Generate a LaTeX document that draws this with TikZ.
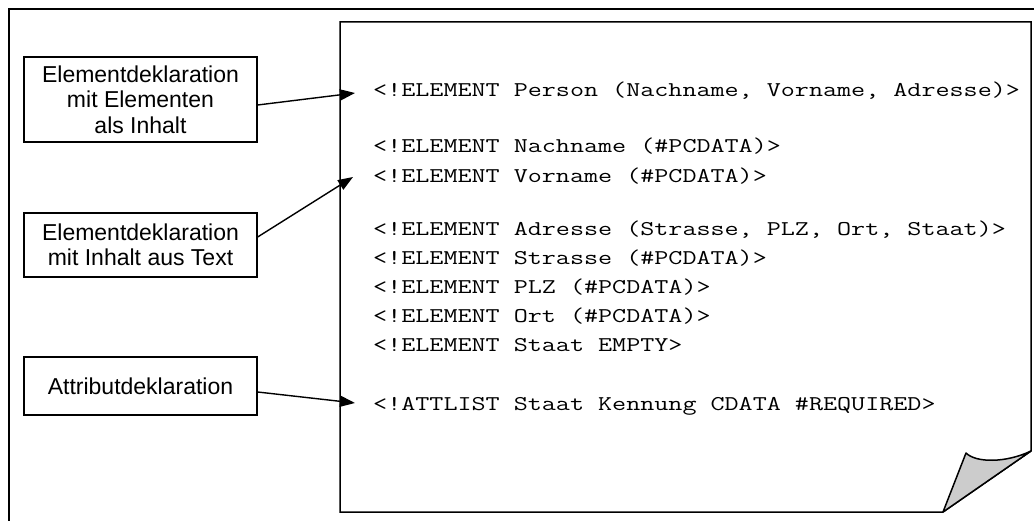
\documentclass[tikz,border=0pt]{standalone}
\usepackage{fontspec}
\usepackage{graphicx}
\setmainfont{Liberation Sans}
\usetikzlibrary{arrows.meta}
\newcommand{\codetext}[1]{\scalebox{1.30}[1]{\ttfamily\fontsize{21}{25}\selectfont #1}}
\begin{document}
\begin{tikzpicture}[x=1pt,y=-1pt,
  labelbox/.style={draw, line width=1.3pt, inner sep=0pt, align=center,
    minimum width=233pt, font=\fontsize{23}{25.5}\selectfont},
  codeline/.style={anchor=base west, inner sep=0pt},
  pointer/.style={line width=1.4pt, -{Triangle[length=15pt,width=11pt]}}]
\useasboundingbox (0,0) rectangle (1034,521);
% outer frame
\draw[line width=2.6pt] (9,530) -- (9,9) -- (1040,9);
% page
\draw[line width=1.5pt, fill=white] (340,22) -- (1031,22) -- (1031,451) -- (943,512) -- (340,512) -- cycle;
\draw[line width=1.5pt, fill=black!20, line join=round] (943,512) -- (966,453) .. controls (976,463) and (1006,463) .. (1031,451) -- cycle;
% labels
\node[labelbox, minimum height=85pt] (b1) at (140.5,99.5) {Elementdeklaration\\mit Elementen\\als Inhalt};
\node[labelbox, minimum height=64pt] (b2) at (140.5,245) {Elementdeklaration\\mit Inhalt aus Text};
\node[labelbox, minimum height=58pt] (b3) at (140.5,386) {Attributdeklaration};
% code
\node[codeline] (l1) at (373,97) {\codetext{<!ELEMENT Person (Nachname, Vorname, Adresse)>}};
\node[codeline] (l2) at (373,153) {\codetext{<!ELEMENT Nachname (\#PCDATA)>}};
\node[codeline] (l3) at (373,183) {\codetext{<!ELEMENT Vorname (\#PCDATA)>}};
\node[codeline] (l4) at (373,236) {\codetext{<!ELEMENT Adresse (Strasse, PLZ, Ort, Staat)>}};
\node[codeline] (l5) at (373,265) {\codetext{<!ELEMENT Strasse (\#PCDATA)>}};
\node[codeline] (l6) at (373,294) {\codetext{<!ELEMENT PLZ (\#PCDATA)>}};
\node[codeline] (l7) at (373,323) {\codetext{<!ELEMENT Ort (\#PCDATA)>}};
\node[codeline] (l8) at (373,352) {\codetext{<!ELEMENT Staat EMPTY>}};
\node[codeline] (l9) at (373,410) {\codetext{<!ATTLIST Staat Kennung CDATA \#REQUIRED>}};
% arrow targets
\coordinate (t1) at (355,93);
\coordinate (t2) at (353,177);
\coordinate (t3) at (355,403);
\draw[pointer] ([yshift=-5.5pt]b1.east) -- (t1);
\draw[pointer] ([yshift=8pt]b2.east) -- (t2);
\draw[pointer] ([yshift=-6pt]b3.east) -- (t3);
\end{tikzpicture}
\end{document}
